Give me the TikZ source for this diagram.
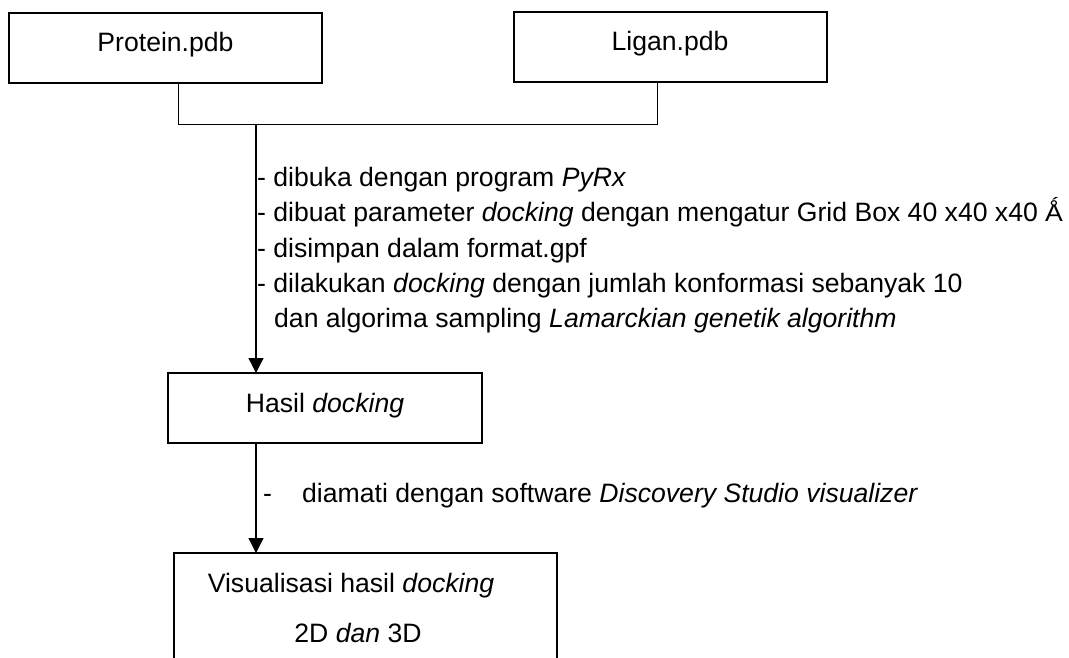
\documentclass[tikz,border=0pt]{standalone}
\usepackage{fontspec}
\setmainfont{Liberation Sans}
\usetikzlibrary{arrows.meta}
\begin{document}
\begin{tikzpicture}[x=1pt,y=-1pt,
  box/.style={draw,line width=1.8pt,inner sep=0pt,outer sep=0pt,anchor=north west},
  txt/.style={font=\fontsize{26.6}{32}\selectfont,inner sep=0pt},
  conn/.style={line width=1pt},
  arr/.style={line width=1.3pt,-{Triangle[length=15pt,width=15pt]}}]
\useasboundingbox (0,0) rectangle (1069,658);
\clip (0,0) rectangle (1069,658);
% boxes
\node[box,minimum width=313pt,minimum height=70pt] (prot) at (9,13) {};
\node[txt,anchor=base] (tprot) at (165.5,52) {Protein.pdb};
\node[box,minimum width=313pt,minimum height=70pt] (lig) at (514,12) {};
\node[txt,anchor=base] (tlig) at (670,51) {Ligan.pdb};
\node[box,minimum width=314pt,minimum height=70pt] (hasil) at (168,373) {};
\node[txt,anchor=base] (thasil) at (325,412) {Hasil \textit{docking}};
\node[box,minimum width=383pt,minimum height=130pt] (vis) at (174,553) {};
\node[txt,anchor=base] (tvis1) at (351,592) {Visualisasi hasil \textit{docking}};
\node[txt,anchor=base] (tvis2) at (358,642) {2D \textit{dan} 3D};
% connectors
\coordinate (j1) at (178,125);
\coordinate (j2) at (657,125);
\coordinate (jm) at (256,125);
\coordinate (km) at (256,0);
\draw[conn] (prot.south -| j1) -- (j1) -- (j2) -- (lig.south -| j2);
\draw[arr] (jm) -- (hasil.north -| jm);
\draw[arr] (hasil.south -| km) -- (vis.north -| km);
% step texts
\node[txt,anchor=base west] (s1) at (257,187) {- dibuka dengan program \textit{PyRx}};
\node[txt,anchor=base west] (s2) at (257,222) {- dibuat parameter \textit{docking} dengan mengatur Grid Box 40 x40 x40 Ǻ};
\node[txt,anchor=base west] (s3) at (257,257) {- disimpan dalam format.gpf};
\node[txt,anchor=base west] (s4) at (257,292) {- dilakukan \textit{docking} dengan jumlah konformasi sebanyak 10};
\node[txt,anchor=base west] (s5) at (274,327) {dan algorima sampling \textit{Lamarckian genetik algorithm}};
\node[txt,anchor=base west] (d0) at (263,502) {-};
\node[txt,anchor=base west] (d1) at (302,502) {diamati dengan software \textit{Discovery Studio visualizer}};
\end{tikzpicture}
\end{document}
